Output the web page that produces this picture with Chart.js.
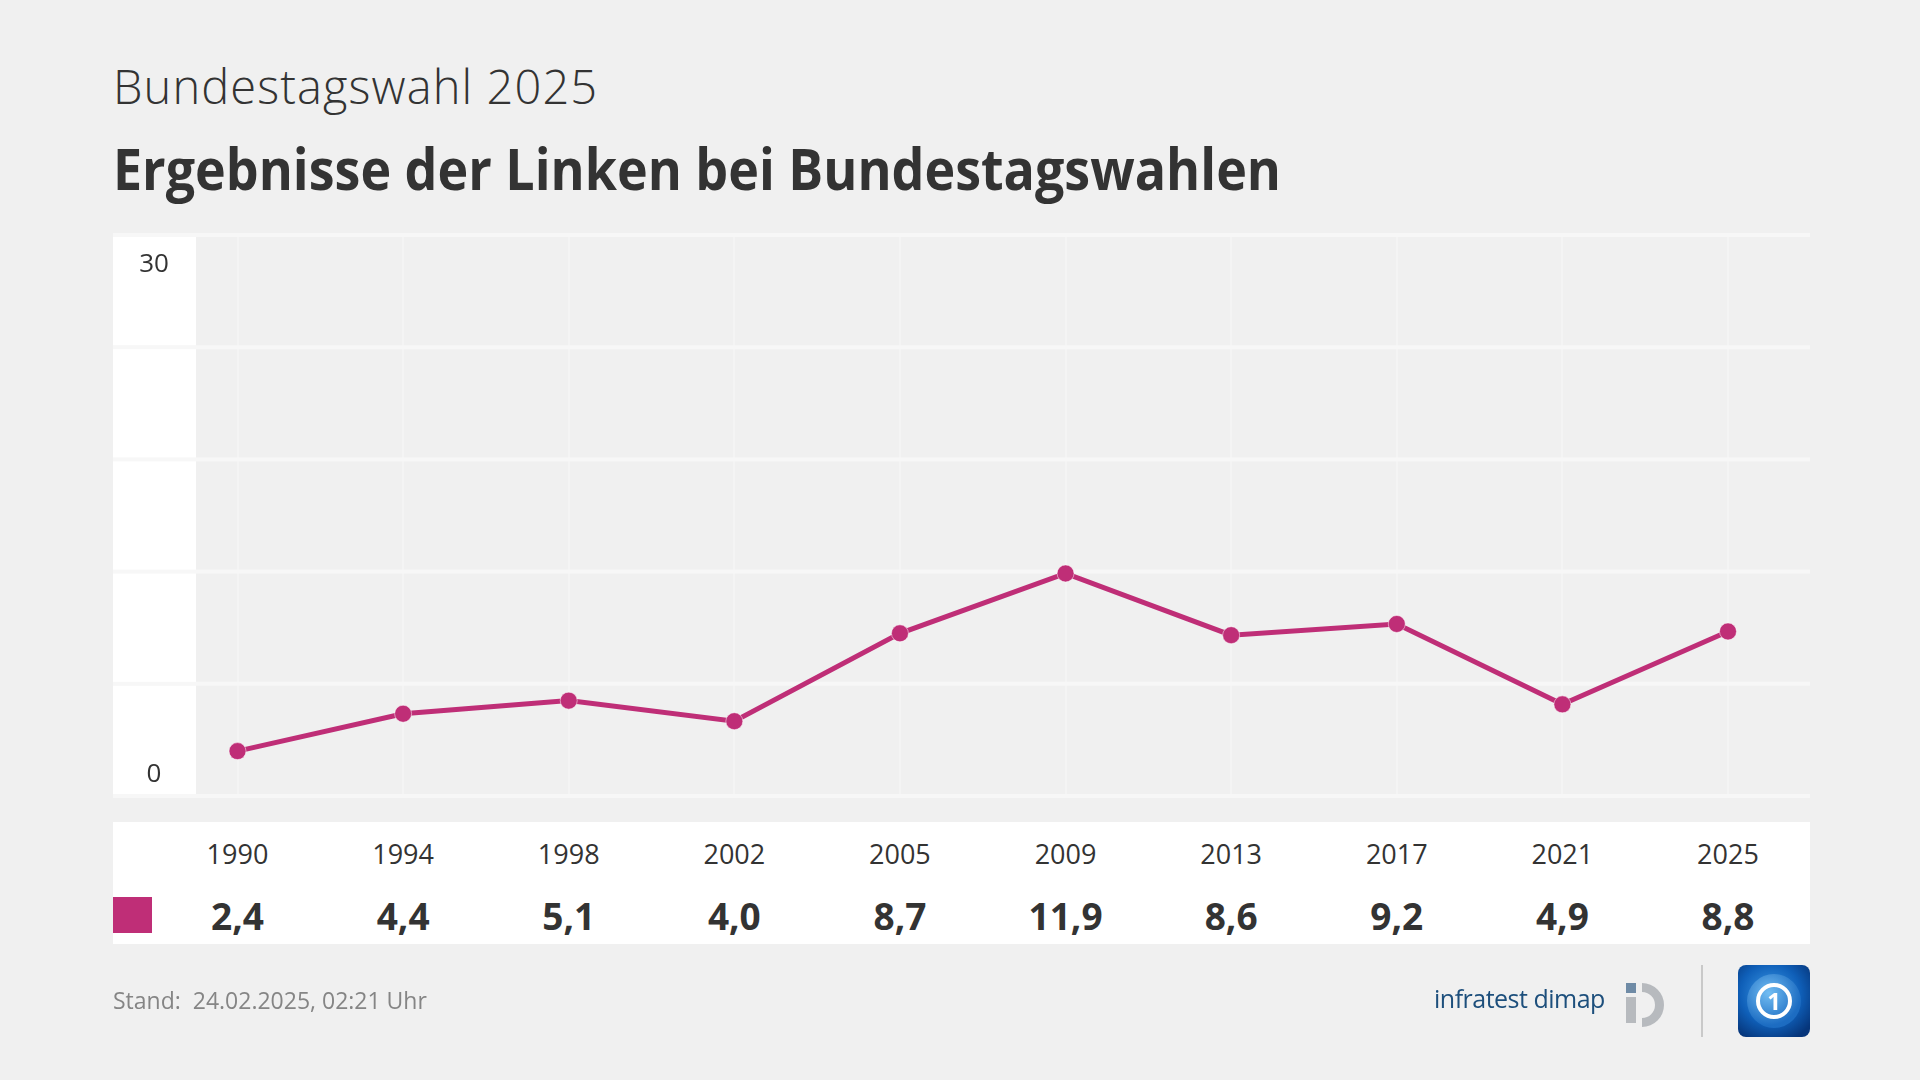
<!DOCTYPE html>
<html lang="de">
<head>
    <meta charset="UTF-8">
    <title>Ergebnisse der Linken bei Bundestagswahlen</title>
    <script src="https://cdn.jsdelivr.net/npm/chart.js"></script>
    <style>
        body {
            margin: 0;
            width: 1920px;
            height: 1080px;
            background: #f0f0f0;
            font-family: "Open Sans", sans-serif;
            color: #333;
            overflow: hidden;
            position: relative;
        }
        .unterzeile {
            position: absolute; left: 113px; top: 63px;
            font-size: 47px; font-weight: 300; line-height: 1; white-space: nowrap; letter-spacing: 1.1px;
        }
        .titel {
            position: absolute; left: 113px; top: 140px;
            font-size: 57px; font-weight: 700; line-height: 1; white-space: nowrap;
            transform: scaleX(0.912); transform-origin: left center;
        }
        #diagramm { position: absolute; left: 0; top: 0; width: 1920px; height: 1080px; }
        .tabelle {
            position: absolute; left: 113px; top: 822px; width: 1697px; height: 122px;
            background: #fff;
        }
        .farbe { position: absolute; left: 0; top: 75px; width: 39px; height: 36px; background: #bf2e77; }
        .jahr, .wert { position: absolute; transform: translate(-50%, -50%); white-space: nowrap; line-height: 1; }
        .jahr { top: 31px; font-size: 27px; }
        .wert { top: 93px; font-size: 37px; font-weight: 700; }
        .stand {
            position: absolute; left: 113px; top: 989px;
            font-size: 23px; color: #858585; line-height: 1; white-space: nowrap;
        }
        .infratest {
            position: absolute; left: 1434px; top: 986px;
            font-size: 25px; font-weight: 500; color: #1d4f7c; line-height: 1; white-space: nowrap; letter-spacing: -0.5px;
        }
    </style>
</head>
<body>
    <div class="unterzeile">Bundestagswahl 2025</div>
    <div class="titel" id="titel">Ergebnisse der Linken bei Bundestagswahlen</div>

    <div id="diagramm"><canvas id="linkeChart"></canvas></div>

    <div class="tabelle" id="tabelle">
        <div class="farbe"></div>
    </div>

    <div class="stand">Stand:&nbsp; 24.02.2025, 02:21 Uhr</div>

    <div class="infratest">infratest dimap</div>
    <svg style="position:absolute;left:1622px;top:980px" width="52" height="50" viewBox="0 0 52 50">
        <rect x="4" y="3" width="10" height="10" fill="#6f8ba6"/>
        <rect x="4" y="17" width="10" height="26" fill="#b7babe"/>
        <path d="M20 3 A22 22 0 1 1 20 47 L20 38 A13 13 0 1 0 20 12 Z" fill="#b7babe"/>
    </svg>
    <div style="position:absolute;left:1701px;top:965px;width:2px;height:72px;background:#c9c9c9"></div>
    <svg style="position:absolute;left:1738px;top:965px" width="72" height="72" viewBox="0 0 72 72">
        <defs>
            <radialGradient id="blau" cx="0.45" cy="0.4" r="0.7">
                <stop offset="0" stop-color="#3d9be8"/>
                <stop offset="0.6" stop-color="#0f5fb8"/>
                <stop offset="1" stop-color="#06357a"/>
            </radialGradient>
            <radialGradient id="globus" cx="0.4" cy="0.35" r="0.6">
                <stop offset="0" stop-color="#7cc4f5"/>
                <stop offset="1" stop-color="#1f6fc4"/>
            </radialGradient>
        </defs>
        <rect x="0" y="0" width="72" height="72" rx="8" fill="url(#blau)"/>
        <circle cx="36" cy="36" r="27" fill="url(#globus)" opacity="0.85"/>
        <circle cx="36" cy="36" r="16" fill="none" stroke="#fff" stroke-width="4"/>
        <text x="36" y="45" text-anchor="middle" font-family="Open Sans" font-weight="700" font-size="24" fill="#fff">1</text>
    </svg>

    <script>
        // Werte aus der Grafik
        const jahre = ['1990', '1994', '1998', '2002', '2005', '2009', '2013', '2017', '2021', '2025'];
        const ergebnisse = [2.4, 4.4, 5.1, 4.0, 8.7, 11.9, 8.6, 9.2, 4.9, 8.8];
        const yMin = 0;
        const yMax = 30;
        const ySchritt = 6;
        const yBeschriftung = ['0', '30'];

        const farbeLinke = '#bf2e77';

        function zahlDeutsch(v) {
            return v.toFixed(1).replace('.', ',');
        }

        // Hintergrund: weisse Achsenspalte, helle Querlinien, Achsenbeschriftung
        const rasterPlugin = {
            id: 'raster',
            beforeDatasetsDraw(chart) {
                const ctx = chart.ctx;
                const y = chart.scales.y;
                const oben = y.getPixelForValue(yMax);
                const unten = y.getPixelForValue(yMin);
                ctx.save();
                ctx.fillStyle = '#ffffff';
                ctx.fillRect(113, oben, 83, unten - oben);
                ctx.fillStyle = '#f7f7f7';
                for (let v = yMin; v <= yMax; v += ySchritt) {
                    const py = y.getPixelForValue(v);
                    ctx.fillRect(113, py - 2, 1697, 4);
                }
                ctx.fillStyle = '#333';
                ctx.font = '26px "Open Sans"';
                ctx.textAlign = 'center';
                ctx.textBaseline = 'middle';
                ctx.fillText(yBeschriftung[1], 154, oben + 30);
                ctx.fillText(yBeschriftung[0], 154, unten - 21);
                ctx.restore();
            },
            afterRender(chart) {
                if (chart._tabelleFertig) return;
                chart._tabelleFertig = true;
                const x = chart.scales.x;
                const tabelle = document.getElementById('tabelle');
                jahre.forEach((j, i) => {
                    const px = x.getPixelForValue(i) - 113;
                    const jd = document.createElement('div');
                    jd.className = 'jahr';
                    jd.style.left = px + 'px';
                    jd.textContent = j;
                    tabelle.appendChild(jd);
                    const wd = document.createElement('div');
                    wd.className = 'wert';
                    wd.style.left = px + 'px';
                    wd.textContent = zahlDeutsch(ergebnisse[i]);
                    tabelle.appendChild(wd);
                });
            }
        };

        new Chart(document.getElementById('linkeChart'), {
            type: 'line',
            data: {
                labels: jahre,
                datasets: [{
                    label: 'Die Linke',
                    data: ergebnisse,
                    borderColor: farbeLinke,
                    backgroundColor: farbeLinke,
                    borderWidth: 5,
                    pointRadius: 8.5,
                    pointBorderWidth: 1,
                    pointBorderColor: 'rgba(255,255,255,0.5)',
                    pointBackgroundColor: farbeLinke,
                    tension: 0,
                    clip: false
                }]
            },
            options: {
                responsive: true,
                maintainAspectRatio: false,
                animation: false,
                layout: {
                    padding: { left: 237.5, right: 192, top: 235, bottom: 284 }
                },
                plugins: {
                    legend: { display: false },
                    tooltip: { enabled: false }
                },
                scales: {
                    x: {
                        type: 'category',
                        offset: false,
                        grid: { color: '#f4f4f4', lineWidth: 2, drawTicks: false },
                        border: { display: false },
                        ticks: { display: false }
                    },
                    y: {
                        display: false,
                        min: yMin,
                        max: yMax,
                        ticks: { stepSize: ySchritt }
                    }
                }
            },
            plugins: [rasterPlugin]
        });
    </script>
</body>
</html>
